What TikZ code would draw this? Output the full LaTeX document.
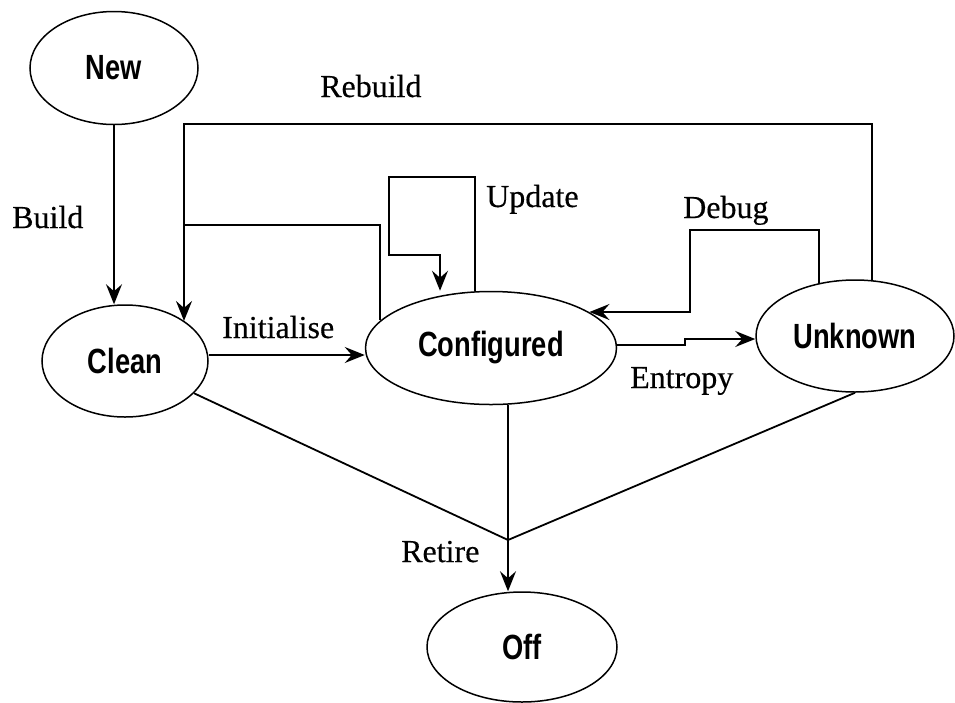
\documentclass[tikz,border=0pt]{standalone}
\usepackage{fontspec}
\setmainfont[FakeBold=0.4]{Liberation Serif}
\newfontfamily\statefont[FakeStretch=0.78]{Liberation Sans Bold}
\usetikzlibrary{shapes.geometric,arrows.meta,calc}

\tikzset{
  state/.style={ellipse, draw, line width=1.5pt, inner sep=0pt,
    font=\statefont\fontsize{35}{40}\selectfont},
  link/.style={line width=1.8pt},
  arr/.style={link, -{Stealth[length=20pt,width=16pt,inset=7pt]}},
  lbl/.style={anchor=base west, inner sep=0pt, font=\fontsize{32}{38}\selectfont},
}

\begin{document}
\begin{tikzpicture}[x=1pt,y=-1pt]
\useasboundingbox (0,0) rectangle (955,702);

% states
\node[state, minimum width=168pt, minimum height=113pt] (New) at (114,68) {New};
\node[state, minimum width=166pt, minimum height=112pt] (Clean) at (125,361) {Clean};
\node[state, minimum width=251pt, minimum height=113pt] (Configured) at (491,348) {Configured};
\node[state, minimum width=198pt, minimum height=112pt] (Unknown) at (855,336) {Unknown};
\node[state, minimum width=190pt, minimum height=110pt] (Off) at (522,647) {Off};

% bend points of the orthogonal connectors
\coordinate (rbR) at (872,124);
\coordinate (rbL) at (184,124);
\coordinate (brJoin) at (184,225);
\coordinate (u1) at (475,177);
\coordinate (u2) at (389,255);
\coordinate (u3) at (440,255);
\coordinate (d1) at (819,230);
\coordinate (d2) at (690,312);
\coordinate (en) at (685,339);
\coordinate (jn) at (508,540);

% Build
\draw[arr] (New) -- (New |- Clean.north);
% Rebuild
\draw[arr] (rbR |- Unknown.73) -- (rbR) -- (rbL) -- (rbL |- Clean.34);
% Configured joins the Rebuild line
\draw[link] (Configured.166.6) |- (brJoin);
% Update loop
\draw[arr] (u1 |- Configured.106) -- (u1) -| (u2) -- (u3) -- (u3 |- Configured.north);
% Initialise
\draw[arr] ([yshift=6pt]Clean.east) -- ([yshift=6pt]Clean.east -| Configured.west);
% Entropy
\draw[arr] ([yshift=3pt]Configured.east) -| (en) -- (en -| Unknown.west);
% Debug
\draw[arr] (d1 |- Unknown.124.6) -- (d1) -| (d2) -- (d2 -| Configured.20.4);
% Retire
\draw[link] (Clean) -- (jn);
\draw[link] (Unknown.south) -- (jn);
\draw[arr] (jn |- Configured.south) -- (jn |- Off.north);

% transition labels
\node[lbl] (lRebuild) at (320,97) {Rebuild};
\node[lbl] (lBuild) at (12,228) {Build};
\node[lbl] (lUpdate) at (486,207) {Update};
\node[lbl] (lDebug) at (683,218) {Debug};
\node[lbl] (lInit) at (222,338) {Initialise};
\node[lbl] (lEntropy) at (630,388) {Entropy};
\node[lbl] (lRetire) at (401,562) {Retire};
\end{tikzpicture}
\end{document}
